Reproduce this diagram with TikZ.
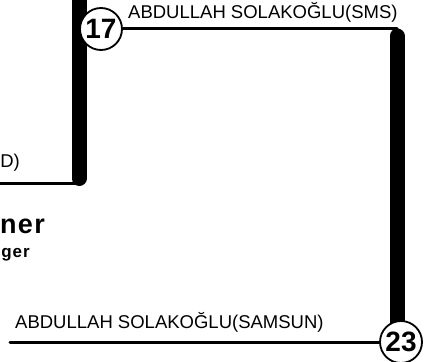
\documentclass[tikz,border=0pt]{standalone}
\usepackage{fontspec}
\setmainfont{Liberation Sans}
\usepackage{xcolor}
\definecolor{Col1}{RGB}{0,0,0}
\definecolor{Col2}{RGB}{110,110,110}
\pgfdeclareradialshading{Ball}{\pgfpoint{-8bp}{8bp}}{color(0bp)=(white);
  color(26bp)=(white); color(44bp)=(Col2!45); color(58bp)=(Col2)}
\tikzstyle{Seed}=[circle,draw=Col1,line width=1.8pt,shading=Ball,
minimum size=42pt,inner sep=0pt,font=\bfseries\fontsize{28}{28}\selectfont]
\tikzstyle{Bar}=[draw=Col1,line width=15pt,line cap=round]
\tikzstyle{Edge}=[draw=Col1,line width=3pt,line cap=round]
\tikzstyle{Name}=[inner sep=0pt,font=\fontsize{18.5}{20}\selectfont]
\tikzstyle{Title}=[inner sep=0pt,font=\bfseries\fontsize{27}{27}\selectfont
\addfontfeatures{LetterSpace=5}]
\tikzstyle{SubTitle}=[inner sep=0pt,font=\bfseries\fontsize{17}{17}\selectfont
\addfontfeatures{LetterSpace=6}]
\begin{document}
\begin{tikzpicture}[x=1pt,y=-1pt]
    \useasboundingbox(0,0)rectangle(430,361);
    \clip(0,0)rectangle(430,361);
        \coordinate(a)at(-10,183);
        \coordinate(b)at(79,183);
        \coordinate(bb)at(79,178.5);
        \coordinate(bt)at(79,-20);
        \coordinate(p17)at(101,29);
        \coordinate(r)at(397,29);
        \coordinate(rt)at(397,36);
        \coordinate(rb)at(397,335);
        \coordinate(p23)at(401,342);
        \coordinate(d)at(10,342);
        \draw[Bar](bt)--(bb);
        \draw[Bar](rt)--(rb);
        \draw[Edge](a)--(b);
        \node[Seed](s17)at(p17){17};
        \node[Seed](s23)at(p23){23};
        \draw[Edge](s17)--(r);
        \draw[Edge](d)--(s23);
        \node[Name,anchor=base west](n17)at(128,19){ABDULLAH SOLAKOĞLU(SMS)};
        \node[Name,anchor=base west](n23)at(15,328){ABDULLAH SOLAKOĞLU(SAMSUN)};
        \node[Name,anchor=base east](n0)at(20,167){D)};
        \node[Title,anchor=base east](t1)at(45,233){ner};
        \node[SubTitle,anchor=base east](t2)at(30,257){ger};
\end{tikzpicture}
\end{document}
